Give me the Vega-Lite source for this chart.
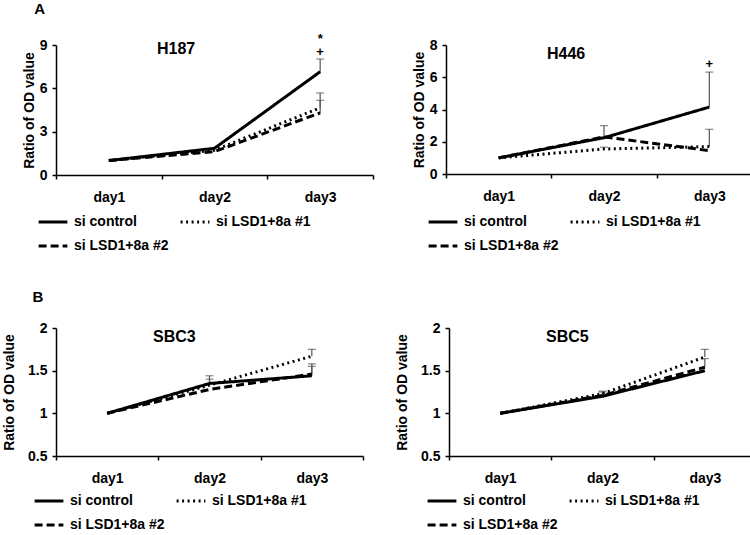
{
  "$schema": "https://vega.github.io/schema/vega-lite/v6.json",
  "padding": {"left": 2, "top": 2, "right": 0, "bottom": 0},
  "background": "white",
  "config": {
    "font": "Liberation Sans",
    "view": {"stroke": null},
    "axis": {
      "labelFont": "Liberation Sans", "labelFontWeight": "bold", "labelFontSize": 14, "labelColor": "#000",
      "titleFont": "Liberation Sans", "titleFontWeight": "bold", "titleFontSize": 14, "titleColor": "#000",
      "domainColor": "#000", "domainWidth": 1.5, "tickColor": "#000", "tickWidth": 1.5, "tickSize": 4, "grid": false
    },
    "axisY": {"labelPadding": 5, "titlePadding": 3},
    "axisX": {"labelPadding": 11},
    "legend": {
      "labelFont": "Liberation Sans", "labelFontWeight": "bold", "labelFontSize": 14, "labelColor": "#000",
      "symbolType": "M-3.6,0H3.6", "symbolSize": 64, "symbolStrokeWidth": 3, "symbolStrokeColor": "#000",
      "symbolOffset": 0, "labelOffset": 14, "columnPadding": 5, "rowPadding": 10
    },
    "title": {"font": "Liberation Sans", "fontWeight": "bold", "color": "#000"}
  },
  "datasets": {
    "h187": [
      {"day": "day1", "series": "si control", "value": 1.0, "hi": null},
      {"day": "day2", "series": "si control", "value": 1.85, "hi": null},
      {"day": "day3", "series": "si control", "value": 7.15, "hi": 8.03},
      {"day": "day1", "series": "si LSD1+8a #1", "value": 1.0, "hi": null},
      {"day": "day2", "series": "si LSD1+8a #1", "value": 1.72, "hi": null},
      {"day": "day3", "series": "si LSD1+8a #1", "value": 4.65, "hi": 5.68},
      {"day": "day1", "series": "si LSD1+8a #2", "value": 1.0, "hi": null},
      {"day": "day2", "series": "si LSD1+8a #2", "value": 1.62, "hi": null},
      {"day": "day3", "series": "si LSD1+8a #2", "value": 4.3, "hi": 5.17}
    ],
    "h187_note": [
      {"day": "day3", "y": 9.4, "mark": "*"},
      {"day": "day3", "y": 8.5, "mark": "+"}
    ],
    "h446": [
      {"day": "day1", "series": "si control", "value": 1.0, "hi": null},
      {"day": "day2", "series": "si control", "value": 2.25, "hi": 3.0},
      {"day": "day3", "series": "si control", "value": 4.15, "hi": 6.32},
      {"day": "day1", "series": "si LSD1+8a #1", "value": 1.0, "hi": null},
      {"day": "day2", "series": "si LSD1+8a #1", "value": 1.55, "hi": 1.66},
      {"day": "day3", "series": "si LSD1+8a #1", "value": 1.7, "hi": 2.77},
      {"day": "day1", "series": "si LSD1+8a #2", "value": 1.0, "hi": null},
      {"day": "day2", "series": "si LSD1+8a #2", "value": 2.3, "hi": null},
      {"day": "day3", "series": "si LSD1+8a #2", "value": 1.45, "hi": null}
    ],
    "h446_note": [
      {"day": "day3", "y": 6.85, "mark": "+"}
    ],
    "sbc3": [
      {"day": "day1", "series": "si control", "value": 1.0, "hi": null},
      {"day": "day2", "series": "si control", "value": 1.35, "hi": 1.44},
      {"day": "day3", "series": "si control", "value": 1.44, "hi": 1.55},
      {"day": "day1", "series": "si LSD1+8a #1", "value": 1.0, "hi": null},
      {"day": "day2", "series": "si LSD1+8a #1", "value": 1.33, "hi": 1.4},
      {"day": "day3", "series": "si LSD1+8a #1", "value": 1.67, "hi": 1.75},
      {"day": "day1", "series": "si LSD1+8a #2", "value": 1.0, "hi": null},
      {"day": "day2", "series": "si LSD1+8a #2", "value": 1.28, "hi": null},
      {"day": "day3", "series": "si LSD1+8a #2", "value": 1.46, "hi": 1.58}
    ],
    "sbc5": [
      {"day": "day1", "series": "si control", "value": 1.0, "hi": null},
      {"day": "day2", "series": "si control", "value": 1.2, "hi": null},
      {"day": "day3", "series": "si control", "value": 1.5, "hi": null},
      {"day": "day1", "series": "si LSD1+8a #1", "value": 1.0, "hi": null},
      {"day": "day2", "series": "si LSD1+8a #1", "value": 1.23, "hi": 1.26},
      {"day": "day3", "series": "si LSD1+8a #1", "value": 1.66, "hi": 1.75},
      {"day": "day1", "series": "si LSD1+8a #2", "value": 1.0, "hi": null},
      {"day": "day2", "series": "si LSD1+8a #2", "value": 1.21, "hi": 1.25},
      {"day": "day3", "series": "si LSD1+8a #2", "value": 1.54, "hi": 1.64}
    ]
  },
  "resolve": {"scale": {"x": "independent", "y": "independent", "strokeDash": "independent"}, "legend": {"strokeDash": "independent"}},
  "spacing": 37,
  "vconcat": [
    {
      "title": {"text": "A", "anchor": "start", "fontSize": 15, "dx": 12, "offset": 16, "frame": "bounds"},
      "resolve": {"scale": {"x": "independent", "y": "independent", "strokeDash": "independent"}, "legend": {"strokeDash": "independent"}},
      "spacing": 38,
      "hconcat": [
        {
          "width": 317, "height": 130,
          "title": {"text": "H187", "anchor": "start", "dx": 101, "offset": -24, "fontSize": 16, "frame": "group"},
          "data": {"name": "h187"},
          "encoding": {"x": {"field": "day", "type": "nominal", "scale": {"type": "band", "domain": ["day1", "day2", "day3"], "paddingInner": 0, "paddingOuter": 0}, "axis": {"title": null, "labelAngle": 0, "tickBand": "extent"}}},
          "layer": [
            {"transform": [{"filter": "datum.hi != null"}], "mark": {"type": "rule", "color": "#555", "strokeWidth": 1.2},
             "encoding": {"y": {"field": "value", "type": "quantitative", "scale": {"domain": [0, 9]}, "axis": {"values": [0, 3, 6, 9], "title": "Ratio of OD value"}}, "y2": {"field": "hi"}}},
            {"transform": [{"filter": "datum.hi != null"}], "mark": {"type": "tick", "color": "#555", "thickness": 1.2, "size": 8},
             "encoding": {"y": {"field": "hi", "type": "quantitative", "scale": {"domain": [0, 9]}, "axis": {"values": [0, 3, 6, 9], "title": "Ratio of OD value"}}}},
            {"mark": {"type": "line", "color": "#000", "strokeWidth": 3},
             "encoding": {"y": {"field": "value", "type": "quantitative", "scale": {"domain": [0, 9]}, "axis": {"values": [0, 3, 6, 9], "title": "Ratio of OD value"}},
               "strokeDash": {"field": "series", "type": "nominal", "scale": {"domain": ["si control", "si LSD1+8a #1", "si LSD1+8a #2"], "range": [[1, 0], [2, 3.5], [8, 4]]},
                 "legend": {"title": null, "orient": "none", "legendX": -10, "legendY": 170, "columns": 2, "direction": "horizontal"}}}},
            {"data": {"name": "h187_note"}, "mark": {"type": "text", "fontSize": 13, "fontWeight": "bold", "fill": "#000"},
             "encoding": {"y": {"field": "y", "type": "quantitative", "scale": {"domain": [0, 9]}, "axis": {"values": [0, 3, 6, 9], "title": "Ratio of OD value"}}, "text": {"field": "mark"}}}
          ]
        },
        {
          "width": 316, "height": 129,
          "title": {"text": "H446", "anchor": "start", "dx": 101, "offset": -24, "fontSize": 16, "frame": "group"},
          "data": {"name": "h446"},
          "encoding": {"x": {"field": "day", "type": "nominal", "scale": {"type": "band", "domain": ["day1", "day2", "day3"], "paddingInner": 0, "paddingOuter": 0}, "axis": {"title": null, "labelAngle": 0, "tickBand": "extent"}}},
          "layer": [
            {"transform": [{"filter": "datum.hi != null"}], "mark": {"type": "rule", "color": "#555", "strokeWidth": 1.2},
             "encoding": {"y": {"field": "value", "type": "quantitative", "scale": {"domain": [0, 8]}, "axis": {"values": [0, 2, 4, 6, 8], "title": "Ratio of OD value"}}, "y2": {"field": "hi"}}},
            {"transform": [{"filter": "datum.hi != null"}], "mark": {"type": "tick", "color": "#555", "thickness": 1.2, "size": 8},
             "encoding": {"y": {"field": "hi", "type": "quantitative", "scale": {"domain": [0, 8]}, "axis": {"values": [0, 2, 4, 6, 8], "title": "Ratio of OD value"}}}},
            {"mark": {"type": "line", "color": "#000", "strokeWidth": 3},
             "encoding": {"y": {"field": "value", "type": "quantitative", "scale": {"domain": [0, 8]}, "axis": {"values": [0, 2, 4, 6, 8], "title": "Ratio of OD value"}},
               "strokeDash": {"field": "series", "type": "nominal", "scale": {"domain": ["si control", "si LSD1+8a #1", "si LSD1+8a #2"], "range": [[1, 0], [2, 3.5], [8, 4]]},
                 "legend": {"title": null, "orient": "none", "legendX": -10, "legendY": 170, "columns": 2, "direction": "horizontal"}}}},
            {"data": {"name": "h446_note"}, "mark": {"type": "text", "fontSize": 13, "fontWeight": "bold", "fill": "#000"},
             "encoding": {"y": {"field": "y", "type": "quantitative", "scale": {"domain": [0, 8]}, "axis": {"values": [0, 2, 4, 6, 8], "title": "Ratio of OD value"}}, "text": {"field": "mark"}}}
          ]
        }
      ]
    },
    {
      "title": {"text": "B", "anchor": "start", "fontSize": 15, "dx": 30, "offset": 16, "frame": "bounds"},
      "resolve": {"scale": {"x": "independent", "y": "independent", "strokeDash": "independent"}, "legend": {"strokeDash": "independent"}},
      "spacing": 31,
      "hconcat": [
        {
          "width": 307, "height": 128,
          "title": {"text": "SBC3", "anchor": "start", "dx": 97, "offset": -24, "fontSize": 16, "frame": "group"},
          "data": {"name": "sbc3"},
          "encoding": {"x": {"field": "day", "type": "nominal", "scale": {"type": "band", "domain": ["day1", "day2", "day3"], "paddingInner": 0, "paddingOuter": 0}, "axis": {"title": null, "labelAngle": 0, "tickBand": "extent"}}},
          "layer": [
            {"transform": [{"filter": "datum.hi != null"}], "mark": {"type": "rule", "color": "#555", "strokeWidth": 1.2},
             "encoding": {"y": {"field": "value", "type": "quantitative", "scale": {"domain": [0.5, 2]}, "axis": {"values": [0.5, 1, 1.5, 2], "format": "~g", "title": "Ratio of OD value", "titlePadding": 11}}, "y2": {"field": "hi"}}},
            {"transform": [{"filter": "datum.hi != null"}], "mark": {"type": "tick", "color": "#555", "thickness": 1.2, "size": 8},
             "encoding": {"y": {"field": "hi", "type": "quantitative", "scale": {"domain": [0.5, 2]}, "axis": {"values": [0.5, 1, 1.5, 2], "format": "~g", "title": "Ratio of OD value", "titlePadding": 11}}}},
            {"mark": {"type": "line", "color": "#000", "strokeWidth": 3},
             "encoding": {"y": {"field": "value", "type": "quantitative", "scale": {"domain": [0.5, 2]}, "axis": {"values": [0.5, 1, 1.5, 2], "format": "~g", "title": "Ratio of OD value", "titlePadding": 11}},
               "strokeDash": {"field": "series", "type": "nominal", "scale": {"domain": ["si control", "si LSD1+8a #1", "si LSD1+8a #2"], "range": [[1, 0], [2, 3.5], [8, 4]]},
                 "legend": {"title": null, "orient": "none", "legendX": -14, "legendY": 166, "columns": 2, "direction": "horizontal"}}}}
          ]
        },
        {
          "width": 307, "height": 128,
          "title": {"text": "SBC5", "anchor": "start", "dx": 97, "offset": -24, "fontSize": 16, "frame": "group"},
          "data": {"name": "sbc5"},
          "encoding": {"x": {"field": "day", "type": "nominal", "scale": {"type": "band", "domain": ["day1", "day2", "day3"], "paddingInner": 0, "paddingOuter": 0}, "axis": {"title": null, "labelAngle": 0, "tickBand": "extent"}}},
          "layer": [
            {"transform": [{"filter": "datum.hi != null"}], "mark": {"type": "rule", "color": "#555", "strokeWidth": 1.2},
             "encoding": {"y": {"field": "value", "type": "quantitative", "scale": {"domain": [0.5, 2]}, "axis": {"values": [0.5, 1, 1.5, 2], "format": "~g", "title": "Ratio of OD value", "titlePadding": 11}}, "y2": {"field": "hi"}}},
            {"transform": [{"filter": "datum.hi != null"}], "mark": {"type": "tick", "color": "#555", "thickness": 1.2, "size": 8},
             "encoding": {"y": {"field": "hi", "type": "quantitative", "scale": {"domain": [0.5, 2]}, "axis": {"values": [0.5, 1, 1.5, 2], "format": "~g", "title": "Ratio of OD value", "titlePadding": 11}}}},
            {"mark": {"type": "line", "color": "#000", "strokeWidth": 3},
             "encoding": {"y": {"field": "value", "type": "quantitative", "scale": {"domain": [0.5, 2]}, "axis": {"values": [0.5, 1, 1.5, 2], "format": "~g", "title": "Ratio of OD value", "titlePadding": 11}},
               "strokeDash": {"field": "series", "type": "nominal", "scale": {"domain": ["si control", "si LSD1+8a #1", "si LSD1+8a #2"], "range": [[1, 0], [2, 3.5], [8, 4]]},
                 "legend": {"title": null, "orient": "none", "legendX": -14, "legendY": 166, "columns": 2, "direction": "horizontal"}}}}
          ]
        }
      ]
    }
  ]
}
